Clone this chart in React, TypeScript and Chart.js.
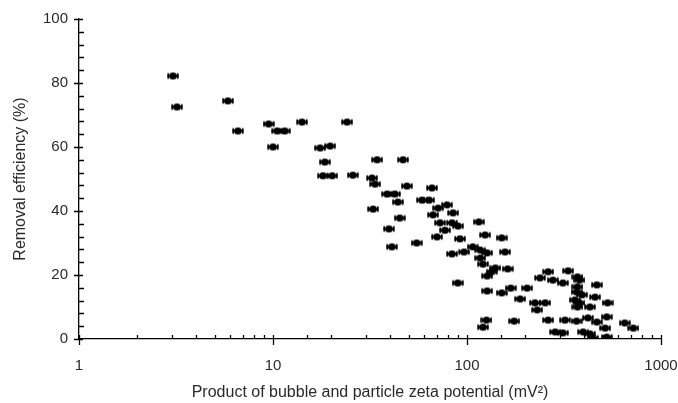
import { useEffect, useRef } from 'react';
import { Chart, registerables } from 'chart.js';

Chart.register(...registerables);

// Product of bubble and particle zeta potential (mV^2)
const zetaProduct = [
  3.05, 3.2, 5.85, 6.6, 9.5, 10, 10.5, 11.5, 14.1, 17.5, 19.7, 18.5, 18.1, 20.2,
  24.1, 25.8, 34.4, 46.8, 32.4, 33.6, 49, 66, 38.7, 42.5, 44, 58.6, 63.7, 32.8,
  45, 39.6, 41, 55, 66.8, 71, 78.9, 84.7, 72.6, 83.7, 89.9, 77, 70, 92, 83.7,
  96.6, 89.6, 115, 124, 151, 107, 117, 127, 157, 117, 121, 140, 134, 127, 162,
  127, 151, 168, 188, 204, 224, 230, 253, 126, 121, 175, 238, 262, 277, 312,
  332, 380, 371, 367, 392, 359, 380, 371, 467, 457, 430, 530, 262, 320, 367,
  420, 467, 525, 515, 285, 312, 397, 430, 447, 525, 650, 720, 371,
];

// Removal efficiency (%)
const removalEfficiency = [
  82.2, 72.5, 74.4, 65, 67.2, 60, 65, 65, 67.8, 59.7, 60.3, 55.3, 51, 51,
  67.8, 51.2, 56, 56, 50.3, 48.4, 47.8, 47.2, 45.3, 45.3, 42.8, 43.4, 43.4, 40.6,
  37.8, 34.4, 28.8, 30, 38.8, 40.9, 41.9, 39.4, 36.3, 36.3, 35.3, 34, 31.9, 31.3, 26.6,
  27.2, 17.5, 36.6, 32.5, 31.6, 28.8, 27.8, 26.9, 27.2, 25.3, 23.4, 22.2, 21, 19.7, 21.9,
  15, 14.4, 15.9, 12.5, 15.9, 11.3, 9.1, 11.3, 5.9, 3.7, 5.6, 19.1, 21, 18.4, 17.5,
  21.3, 18.4, 16.3, 14.7, 13.8, 12.2, 11.3, 10, 16.9, 13.1, 10, 11.3, 5.9, 5.9, 5.6,
  6.6, 5.3, 6.9, 3.4, 2.2, 1.9, 2.2, 1.6, 0.3, 0.6, 5, 3.4, 19.4,
];

const xMin = 1;
const xMax = 1000;
const yMin = 0;
const yMax = 100;
const yMajorStep = 20;
const yMinorStep = 4;

const xTitle = 'Product of bubble and particle zeta potential (mV\u00B2)';
const yTitle = 'Removal efficiency (%)';

const FONT = "'Liberation Sans', Arial, sans-serif";
const TEXT_COLOR = '#2a2a2a';

function makeMarker(): HTMLCanvasElement {
  const c = document.createElement('canvas');
  c.width = 12;
  c.height = 9;
  const g = c.getContext('2d')!;
  g.fillStyle = '#000';
  g.strokeStyle = '#000';
  g.beginPath();
  g.ellipse(6, 4.5, 3.9, 3.5, 0, 0, Math.PI * 2);
  g.fill();
  g.lineWidth = 2.2;
  g.beginPath();
  g.moveTo(0.5, 4.5);
  g.lineTo(11.5, 4.5);
  g.stroke();
  g.lineWidth = 1.6;
  g.beginPath();
  g.moveTo(1.2, 1.8);
  g.lineTo(1.2, 7.2);
  g.moveTo(10.8, 1.8);
  g.lineTo(10.8, 7.2);
  g.stroke();
  return c;
}

const isPow10 = (v: number) => Math.abs(Math.log10(v) - Math.round(Math.log10(v))) < 1e-9;

const tickMarksPlugin = {
  id: 'tickMarks',
  afterDraw(chart: any) {
    const ctx = chart.ctx;
    const xs = chart.scales.x;
    const ys = chart.scales.y;
    const axisY = ys.getPixelForValue(yMin);
    const axisX = xs.getPixelForValue(xMin);
    ctx.save();
    ctx.strokeStyle = '#000';
    ctx.lineWidth = 1.3;
    ctx.beginPath();
    xs.ticks.forEach((t: any) => {
      const px = Math.round(xs.getPixelForValue(t.value)) + 0.5;
      if (isPow10(t.value)) {
        ctx.moveTo(px, axisY - 4);
        ctx.lineTo(px, axisY + 6);
      } else {
        ctx.moveTo(px, axisY);
        ctx.lineTo(px, axisY - 4);
      }
    });
    ys.ticks.forEach((t: any) => {
      const py = Math.round(ys.getPixelForValue(t.value)) + 0.5;
      if (t.value % yMajorStep === 0) {
        ctx.moveTo(axisX - 5, py);
        ctx.lineTo(axisX + 4, py);
      } else {
        ctx.moveTo(axisX, py);
        ctx.lineTo(axisX + 5, py);
      }
    });
    ctx.stroke();
    ctx.restore();
  },
};

export default function App() {
  const ref = useRef<HTMLCanvasElement | null>(null);

  useEffect(() => {
    if (!ref.current) return;
    const marker = makeMarker();
    const data = zetaProduct.map((x, i) => ({ x, y: removalEfficiency[i] }));
    const chart = new Chart(ref.current, {
      type: 'scatter',
      data: {
        datasets: [
          {
            data,
            pointStyle: marker as any,
            pointRadius: 5,
            backgroundColor: '#000',
            borderColor: '#000',
          },
        ],
      },
      plugins: [tickMarksPlugin],
      options: {
        animation: false,
        responsive: false,
        devicePixelRatio: 1,
        layout: { padding: { top: 19, right: 17, left: 0, bottom: 0 } },
        plugins: {
          legend: { display: false },
          tooltip: { enabled: false },
        },
        scales: {
          x: {
            type: 'logarithmic',
            min: xMin,
            max: xMax,
            afterFit: (s: any) => {
              s.height = 64;
              s.paddingLeft = 0;
              s.paddingRight = 0;
            },
            grid: { display: false, drawTicks: false },
            border: { display: true, color: '#000', width: 1.3 },
            ticks: {
              autoSkip: false,
              maxRotation: 0,
              padding: 18,
              color: TEXT_COLOR,
              font: { family: FONT, size: 15 },
              callback: (v: any) => (isPow10(Number(v)) ? String(Number(v)) : ''),
            },
            title: {
              display: true,
              text: xTitle,
              color: TEXT_COLOR,
              font: { family: FONT, size: 16 },
              padding: { top: 0, bottom: 1 },
            },
          },
          y: {
            type: 'linear',
            min: yMin,
            max: yMax,
            afterFit: (s: any) => {
              s.width = 79;
              s.paddingTop = 0;
              s.paddingBottom = 0;
            },
            grid: { display: false, drawTicks: false },
            border: { display: true, color: '#000', width: 1.3 },
            ticks: {
              stepSize: yMinorStep,
              autoSkip: false,
              padding: 11,
              color: TEXT_COLOR,
              font: { family: FONT, size: 15 },
              callback: (v: any) => (Number(v) % yMajorStep === 0 ? String(v) : ''),
            },
            title: {
              display: true,
              text: yTitle,
              color: TEXT_COLOR,
              font: { family: FONT, size: 16 },
              padding: { top: 11.4, bottom: 0 },
            },
          },
        },
      },
    });
    return () => chart.destroy();
  }, []);

  return (
    <div style={{ position: 'absolute', left: 0, top: 0, width: 678, height: 403, background: '#fff' }}>
      <canvas ref={ref} width={678} height={403} style={{ width: 678, height: 403 }} />
    </div>
  );
}
